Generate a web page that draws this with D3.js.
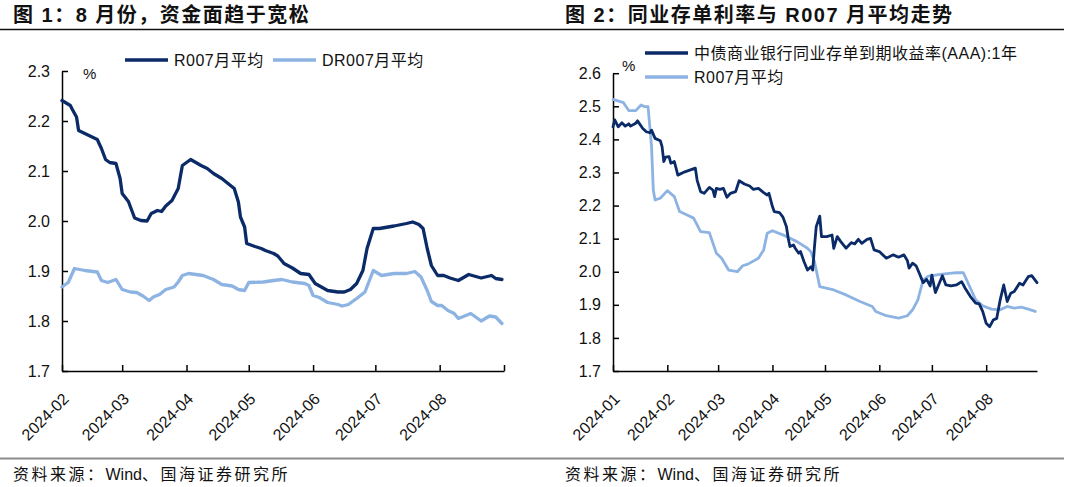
<!DOCTYPE html>
<html><head><meta charset="utf-8">
<script src="https://cdn.jsdelivr.net/npm/d3@7"></script>
<style>
body{margin:0;background:#fff;}
svg{display:block;font-family:"Liberation Sans","Noto Sans CJK SC",sans-serif;}
</style></head><body>
<svg id="c" width="1080" height="487"></svg>
<script>
// ---------- DATA ----------
const chart1Title = "图 1：8 月份，资金面趋于宽松";
const chart2Title = "图 2：同业存单利率与 R007 月平均走势";
const sourceParts = ["资料来源：", "Wind", "、国海证券研究所"];

const c1Names = ["R007月平均", "DR007月平均"];
const c1R007Dates = ["02-01","02-05","02-06","02-08","02-09","02-13","02-18","02-20","02-22","02-24","02-27","02-29","03-01","03-04","03-07","03-10","03-13","03-15","03-18","03-20","03-22","03-25","03-28","03-30","04-03","04-08","04-11","04-14","04-18","04-21","04-24","04-26","04-27","04-29","04-30","05-04","05-07","05-09","05-13","05-15","05-18","05-22","05-26","05-30","06-02","06-05","06-08","06-13","06-16","06-19","06-22","06-25","06-27","06-30","07-03","07-10","07-16","07-19","07-22","07-24","07-26","07-28","07-31","08-03","08-06","08-10","08-15","08-21","08-24","08-26","08-28","08-31"];
const c1R007Values = [2.241,2.231,2.223,2.208,2.181,2.173,2.163,2.145,2.123,2.117,2.115,2.085,2.055,2.039,2.006,2.001,2.000,2.015,2.021,2.019,2.030,2.041,2.065,2.111,2.123,2.111,2.105,2.095,2.085,2.075,2.065,2.038,2.008,1.988,1.955,1.949,1.945,1.941,1.935,1.930,1.915,1.906,1.895,1.893,1.875,1.868,1.861,1.858,1.858,1.863,1.875,1.901,1.945,1.985,1.985,1.990,1.995,1.998,1.993,1.985,1.945,1.911,1.891,1.891,1.886,1.881,1.893,1.886,1.889,1.891,1.885,1.883];
const c1DR007Dates = ["02-01","02-04","02-07","02-12","02-18","02-20","02-23","02-27","03-01","03-05","03-08","03-11","03-14","03-16","03-19","03-22","03-26","03-28","03-30","04-02","04-09","04-14","04-18","04-23","04-26","04-29","05-01","05-08","05-13","05-17","05-22","05-28","05-30","06-01","06-04","06-08","06-13","06-15","06-18","06-22","06-26","06-30","07-04","07-10","07-16","07-20","07-23","07-26","07-28","07-31","08-02","08-05","08-08","08-10","08-16","08-21","08-25","08-28","08-31"];
const c1DR007Values = [1.868,1.877,1.905,1.901,1.898,1.881,1.877,1.883,1.863,1.858,1.857,1.850,1.841,1.848,1.853,1.863,1.868,1.878,1.891,1.895,1.891,1.883,1.873,1.870,1.863,1.861,1.877,1.878,1.881,1.883,1.878,1.875,1.871,1.851,1.847,1.837,1.833,1.830,1.833,1.845,1.858,1.901,1.891,1.895,1.895,1.899,1.888,1.861,1.839,1.831,1.831,1.821,1.815,1.805,1.815,1.800,1.810,1.808,1.795];
const c1YTicks = [1.7,1.8,1.9,2.0,2.1,2.2,2.3];
const c1XTicks = ["2024-02","2024-03","2024-04","2024-05","2024-06","2024-07","2024-08","2024-09"];
const c1XLabels = ["2024-02","2024-03","2024-04","2024-05","2024-06","2024-07","2024-08"];

const c2Names = ["中债商业银行同业存单到期收益率(AAA):1年", "R007月平均"];
const c2CDDates = ["01-01","01-02","01-04","01-06","01-08","01-10","01-11","01-14","01-15","01-18","01-20","01-22","01-23","01-25","01-28","01-29","01-30","01-31","02-02","02-03","02-05","02-06","02-07","02-11","02-17","02-18","02-20","02-22","02-25","02-27","02-28","02-29","03-02","03-04","03-06","03-08","03-11","03-13","03-16","03-19","03-21","03-24","03-27","03-29","03-30","04-01","04-02","04-05","04-07","04-09","04-10","04-11","04-13","04-14","04-16","04-17","04-19","04-21","04-23","04-24","04-25","04-26","04-28","04-29","05-02","05-05","05-06","05-08","05-10","05-13","05-16","05-18","05-20","05-22","05-25","05-27","05-29","06-01","06-05","06-09","06-12","06-15","06-17","06-18","06-20","06-22","06-24","06-26","06-28","06-30","07-01","07-03","07-05","07-07","07-09","07-12","07-15","07-18","07-20","07-23","07-26","07-28","07-30","08-01","08-03","08-05","08-07","08-09","08-11","08-13","08-15","08-17","08-20","08-22","08-25","08-27","08-30"];
const c2CDValues = [2.438,2.459,2.438,2.450,2.440,2.447,2.440,2.449,2.456,2.433,2.423,2.420,2.428,2.403,2.396,2.378,2.333,2.346,2.348,2.328,2.333,2.313,2.292,2.302,2.313,2.277,2.242,2.237,2.255,2.247,2.227,2.252,2.249,2.252,2.225,2.237,2.242,2.275,2.265,2.259,2.249,2.252,2.239,2.232,2.237,2.197,2.182,2.179,2.165,2.136,2.101,2.076,2.081,2.071,2.056,2.061,2.031,2.005,2.015,2.005,2.076,2.136,2.168,2.106,2.106,2.111,2.071,2.106,2.091,2.071,2.088,2.084,2.098,2.086,2.098,2.101,2.066,2.061,2.041,2.051,2.044,2.051,2.034,2.011,2.026,2.018,1.993,1.967,1.977,1.957,1.990,1.937,1.962,1.988,1.960,1.957,1.960,1.970,1.950,1.925,1.905,1.903,1.880,1.844,1.834,1.854,1.859,1.915,1.960,1.910,1.935,1.940,1.965,1.960,1.985,1.988,1.967];
const c2R007Dates = ["01-01","01-07","01-10","01-14","01-17","01-19","01-21","01-23","01-24","01-25","01-28","02-01","02-05","02-08","02-12","02-16","02-20","02-25","02-29","03-03","03-07","03-12","03-15","03-18","03-24","03-27","03-29","04-01","04-08","04-15","04-21","04-23","04-25","04-28","05-06","05-13","05-21","05-28","05-30","06-05","06-12","06-17","06-20","06-23","06-26","06-29","07-07","07-15","07-19","07-20","07-23","07-26","07-30","08-04","08-09","08-13","08-17","08-21","08-25","08-29"];
const c2R007Values = [2.521,2.511,2.487,2.487,2.504,2.499,2.499,2.378,2.247,2.217,2.222,2.245,2.227,2.182,2.172,2.162,2.121,2.118,2.056,2.041,2.005,2.000,2.018,2.023,2.041,2.066,2.116,2.124,2.109,2.091,2.071,2.060,2.030,1.955,1.945,1.930,1.910,1.895,1.880,1.867,1.860,1.867,1.885,1.915,1.975,1.987,1.993,1.997,1.997,1.985,1.950,1.915,1.897,1.887,1.885,1.895,1.890,1.893,1.887,1.880];
const c2YTicks = [1.7,1.8,1.9,2.0,2.1,2.2,2.3,2.4,2.5,2.6];
const c2XTicks = ["2024-01","2024-02","2024-03","2024-04","2024-05","2024-06","2024-07","2024-08"];
const c2XLabels = c2XTicks;

// ---------- STYLE ----------
const DARK = "#0b2a68", LIGHT = "#8db3e3";
const svg = d3.select("#c");
const parseDay = d3.timeParse("%Y-%m-%d");
const parseMonth = d3.timeParse("%Y-%m");
const zip = (ds, vs) => ds.slice(0, Math.min(ds.length, vs.length)).map((d, i) => ({date: parseDay("2024-" + d), value: vs[i]}));

// header / footer rules and text
svg.append("line").attr("x1",0).attr("x2",1064).attr("y1",29.5).attr("y2",29.5).attr("stroke","#111").attr("stroke-width",1.4);
svg.append("line").attr("x1",0).attr("x2",1064).attr("y1",458.5).attr("y2",458.5).attr("stroke","#8c8c8c").attr("stroke-width",2);
const titleAttrs = s => s.attr("font-size",20).attr("font-weight","bold").attr("letter-spacing","1.5px").attr("fill","#111");
titleAttrs(svg.append("text").attr("x",13).attr("y",22).text(chart1Title));
titleAttrs(svg.append("text").attr("x",565).attr("y",22).text(chart2Title));
[13, 565].forEach(sx => {
  const t = svg.append("text").attr("x", sx).attr("y", 480).attr("font-size",16).attr("fill","#111");
  t.append("tspan").attr("letter-spacing","2.5px").text(sourceParts[0]);
  t.append("tspan").attr("letter-spacing","0px").text(sourceParts[1]);
  t.append("tspan").attr("letter-spacing","2.5px").text(sourceParts[2]);
});

function drawChart(cfg) {
  const g = svg.append("g");
  const x = d3.scaleTime().domain(cfg.xDomain).range([cfg.x0, cfg.x1]);
  const y = d3.scaleLinear().domain(cfg.yDomain).range([cfg.yBottom, cfg.yTop]);

  // y axis
  const ya = g.append("g").attr("transform", `translate(${cfg.x0},0)`)
    .call(d3.axisLeft(y).tickValues(cfg.yTicks).tickFormat(d3.format(".1f")).tickSizeInner(-6).tickSizeOuter(0).tickPadding(12));
  ya.select(".domain").attr("stroke","#000").attr("stroke-width",1.5);
  ya.selectAll(".tick line").attr("stroke","#000").attr("stroke-width",1.5);
  ya.selectAll(".tick text").attr("font-size",16).attr("fill","#111").attr("font-family","Liberation Sans");

  // x axis
  const xTickDates = cfg.xTicks.map(parseMonth);
  const xa = g.append("g").attr("transform", `translate(0,${cfg.yBottom})`)
    .call(d3.axisBottom(x).tickValues(xTickDates).tickSizeInner(-6).tickSizeOuter(0).tickFormat(""));
  xa.select(".domain").attr("stroke","#000").attr("stroke-width",1.5);
  xa.selectAll(".tick line").attr("stroke","#000").attr("stroke-width",1.5);
  g.selectAll(".xl").data(cfg.xLabels).join("text").attr("class","xl")
    .attr("transform", d => `translate(${x(parseMonth(d)) + 4},${cfg.yBottom + 25}) rotate(-45)`)
    .attr("text-anchor","end").attr("dominant-baseline","central")
    .attr("font-size",16).attr("fill","#111").text(d => d);

  // unit
  g.append("text").attr("x", cfg.unitX).attr("y", cfg.unitY).attr("font-size",15).attr("fill","#111").text("%");

  // lines
  const line = d3.line().x(d => x(d.date)).y(d => y(d.value)).curve(d3.curveLinear);
  cfg.series.forEach(s => {
    g.append("path").datum(s.data).attr("fill","none").attr("stroke", s.color)
      .attr("stroke-width", cfg.lineWidth).attr("stroke-linejoin","round").attr("stroke-linecap","round").attr("d", line);
  });

  // legend
  cfg.legend.forEach(l => {
    g.append("line").attr("x1", l.x).attr("x2", l.x + 43).attr("y1", l.y).attr("y2", l.y)
      .attr("stroke", l.color).attr("stroke-width", 3.5);
    g.append("text").attr("x", l.x + 49).attr("y", l.y).attr("dominant-baseline","central")
      .attr("font-size",16).attr("letter-spacing","0.5px").attr("fill","#111").text(l.name);
  });
}

drawChart({
  x0: 62, x1: 504, yBottom: 371, yTop: 71,
  xDomain: [parseDay("2024-02-01"), parseDay("2024-09-01")],
  yDomain: [1.7, 2.3], yTicks: c1YTicks, xTicks: c1XTicks, xLabels: c1XLabels,
  unitX: 83, unitY: 79, lineWidth: 3.3,
  series: [
    {data: zip(c1DR007Dates, c1DR007Values), color: LIGHT},
    {data: zip(c1R007Dates, c1R007Values), color: DARK}
  ],
  legend: [
    {x: 125, y: 60, color: DARK, name: c1Names[0]},
    {x: 273, y: 60, color: LIGHT, name: c1Names[1]}
  ]
});

drawChart({
  x0: 613, x1: 1037, yBottom: 371, yTop: 73.2,
  xDomain: [parseDay("2024-01-01"), parseDay("2024-08-30")],
  yDomain: [1.7, 2.6], yTicks: c2YTicks, xTicks: c2XTicks, xLabels: c2XLabels,
  unitX: 622, unitY: 71, lineWidth: 2.8,
  series: [
    {data: zip(c2R007Dates, c2R007Values), color: LIGHT},
    {data: zip(c2CDDates, c2CDValues), color: DARK}
  ],
  legend: [
    {x: 645, y: 53, color: DARK, name: c2Names[0]},
    {x: 645, y: 77, color: LIGHT, name: c2Names[1]}
  ]
});
</script>
</body></html>
